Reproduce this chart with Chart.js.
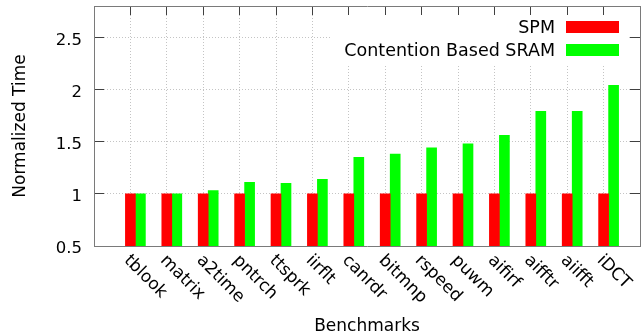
<!DOCTYPE html>
<html>
<head>
<meta charset="utf-8">
<script src="https://cdn.jsdelivr.net/npm/chart.js@4.4.1/dist/chart.umd.min.js"></script>
<style>
  html, body { margin: 0; padding: 0; background: #fff; }
</style>
</head>
<body>
<canvas id="chart" width="641" height="334"></canvas>
<script>
const benchmarks = ['tblook', 'matrix', 'a2time', 'pntrch', 'ttsprk', 'iirflt', 'canrdr',
    'bitmnp', 'rspeed', 'puwm', 'aifirf', 'aifftr', 'aiifft', 'iDCT'];
const spmTime = [1, 1, 1, 1, 1, 1, 1, 1, 1, 1, 1, 1, 1, 1];
const sramTime = [1.00, 1.00, 1.03, 1.11, 1.10, 1.14, 1.35, 1.38, 1.44, 1.48, 1.56, 1.79, 1.79, 2.04];
const yMin = 0.5, yMax = 2.8, yStep = 0.5;

const FONT = "'DejaVu Sans', sans-serif";
const frameColor = '#7a7a7a';
const gridColor = '#c4c4c4';
const tickColor = '#404040';

const toPoints = vals => vals.map((v, i) => ({ x: i, y: v }));

// x labels like gnuplot "rotate by -45": start at the tick, go down to the right
const rotatedLabels = {
    id: 'rotatedLabels',
    afterDraw(chart) {
        const { ctx } = chart;
        const x = chart.scales.x;
        ctx.save();
        ctx.font = '17px ' + FONT;
        ctx.fillStyle = '#000';
        ctx.textAlign = 'left';
        ctx.textBaseline = 'alphabetic';
        benchmarks.forEach((name, i) => {
            ctx.save();
            ctx.translate(x.getPixelForValue(i) - 7, x.top + 15);
            ctx.rotate(Math.PI / 4);
            ctx.fillText(name, 0, 0);
            ctx.restore();
        });
        ctx.restore();
    }
};

// key in the top right corner of the plot, text left of the colour sample
const insideLegend = {
    id: 'insideLegend',
    afterDraw(chart) {
        const { ctx, chartArea } = chart;
        const items = chart.data.datasets.filter(ds => ds.label);
        const boxW = 53, boxH = 12, rowH = 23;
        const boxLeft = chartArea.right - 21 - boxW;
        const top = chartArea.top + 15;
        ctx.save();
        ctx.font = '17.5px ' + FONT;
        const textW = Math.max(...items.map(ds => ctx.measureText(ds.label).width));
        ctx.fillStyle = '#fff';
        ctx.fillRect(boxLeft - 11 - textW - 13, top - 6, textW + boxW + 33, items.length * rowH + 4);
        ctx.textAlign = 'right';
        ctx.textBaseline = 'alphabetic';
        items.forEach((ds, i) => {
            const y = top + i * rowH;
            ctx.fillStyle = ds.backgroundColor;
            ctx.fillRect(boxLeft, y, boxW, boxH);
            ctx.fillStyle = '#000';
            ctx.fillText(ds.label, boxLeft - 11, y + boxH);
        });
        ctx.restore();
    }
};

Chart.defaults.font.family = FONT;
Chart.defaults.font.size = 17;
Chart.defaults.color = '#000';

const ctx = document.getElementById('chart').getContext('2d');
new Chart(ctx, {
    type: 'bar',
    data: {
        datasets: [
            // empty spacer so the SPM bar sits centred on its tick
            { label: '', data: [], barThickness: 10 },
            {
                label: 'SPM',
                data: toPoints(spmTime),
                backgroundColor: '#ff0000',
                barThickness: 10
            },
            {
                label: 'Contention Based SRAM',
                data: toPoints(sramTime),
                backgroundColor: '#00ff00',
                barThickness: 10
            }
        ]
    },
    options: {
        responsive: false,
        animation: false,
        devicePixelRatio: 1,
        plugins: {
            legend: { display: false },
            tooltip: { enabled: false }
        },
        scales: {
            x: {
                type: 'linear',
                position: 'bottom',
                offset: false,
                min: -1,
                max: benchmarks.length,
                ticks: { stepSize: 1, display: false },
                grid: { offset: false, color: gridColor, tickColor: tickColor, tickLength: -9 },
                border: { color: frameColor, width: 1, dash: [1, 2] },
                title: {
                    display: true,
                    text: 'Benchmarks',
                    font: { size: 17 },
                    padding: { top: 0, bottom: -3 }
                },
                afterFit: s => { s.height = 88; }
            },
            x2: {
                type: 'linear',
                position: 'top',
                offset: false,
                min: -1,
                max: benchmarks.length,
                ticks: { stepSize: 1, display: false },
                grid: { offset: false, drawOnChartArea: false, tickColor: tickColor, tickLength: -9 },
                border: { color: frameColor, width: 1 },
                afterFit: s => { s.height = 6; }
            },
            y: {
                min: yMin,
                max: yMax,
                ticks: {
                    stepSize: yStep,
                    includeBounds: false,
                    padding: 22,
                    labelOffset: 3,
                    font: { size: 16.5 },
                    callback: v => String(v)
                },
                grid: { color: gridColor, tickColor: tickColor, tickLength: -10 },
                border: { color: frameColor, width: 1, dash: [1, 2] },
                title: {
                    display: true,
                    text: 'Normalized Time',
                    font: { size: 17 },
                    padding: { top: 10, bottom: 0 }
                },
                afterFit: s => {
                    s.width = 94;
                    s.paddingTop = 0;
                    s.paddingBottom = 0;
                }
            },
            y2: {
                position: 'right',
                min: yMin,
                max: yMax,
                ticks: { stepSize: yStep, includeBounds: false, display: false },
                grid: { drawOnChartArea: false, tickColor: tickColor, tickLength: -10 },
                border: { color: frameColor, width: 1 },
                afterFit: s => { s.width = 1; }
            }
        }
    },
    plugins: [rotatedLabels, insideLegend]
});
</script>
</body>
</html>
